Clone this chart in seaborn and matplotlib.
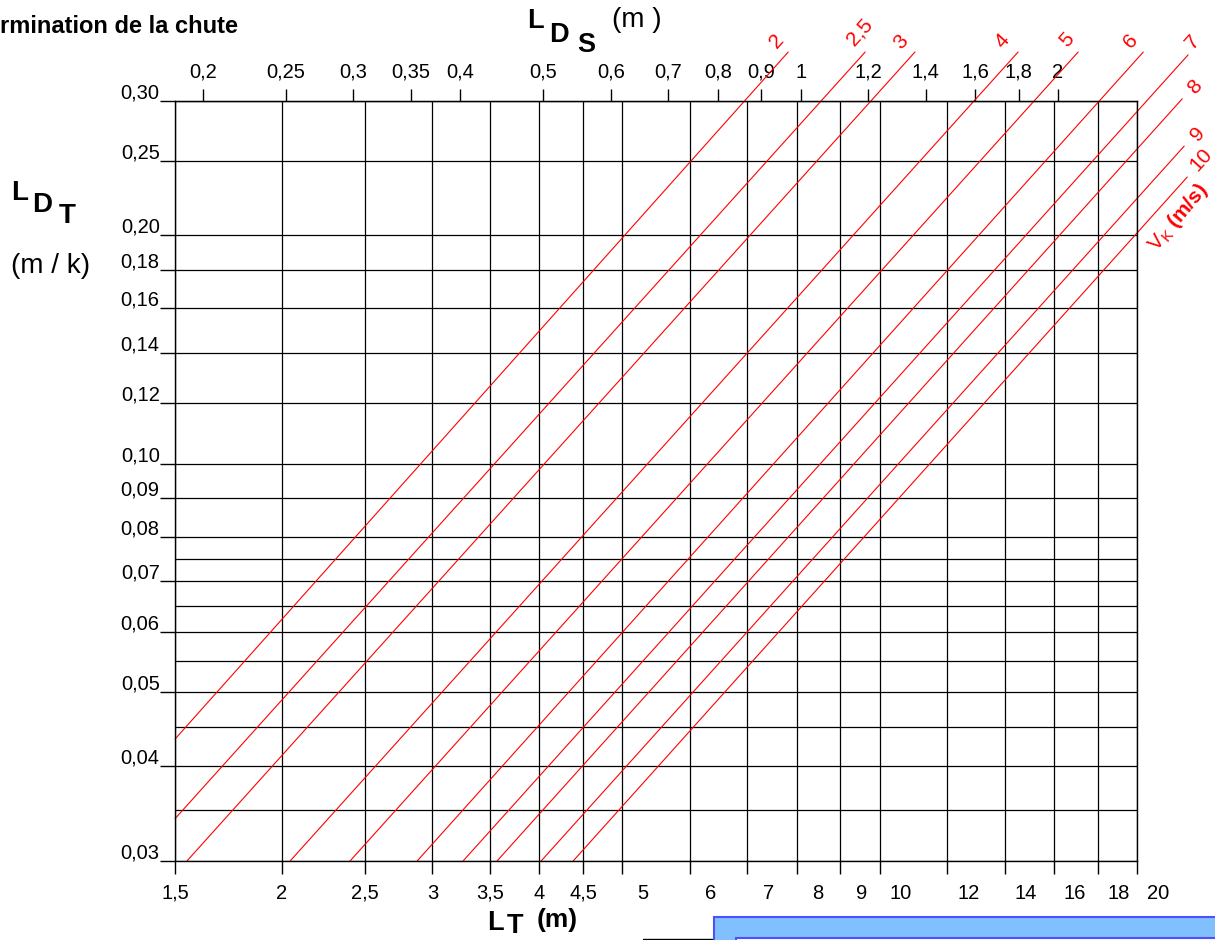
import pandas as pd
import seaborn as sns
import matplotlib.pyplot as plt
import matplotlib.transforms as mtransforms
from matplotlib.patches import Rectangle
from matplotlib.lines import Line2D
from matplotlib.ticker import NullLocator, NullFormatter

# bottom axis: L_T (m)
lt_ticks = [1.5, 2, 2.5, 3, 3.5, 4, 4.5, 5, 6, 7, 8, 9, 10, 12, 14, 16, 18, 20]
lt_labels = ["1,5", "2", "2,5", "3", "3,5", "4", "4,5", "5", "6", "7", "8", "9",
             "10", "12", "14", "16", "18", "20"]

# left axis: L_DT (m / k)
ldt_ticks = [0.03, 0.04, 0.05, 0.06, 0.07, 0.08, 0.09, 0.10, 0.12, 0.14, 0.16,
             0.18, 0.20, 0.25, 0.30]
ldt_labels = ["0,03", "0,04", "0,05", "0,06", "0,07", "0,08", "0,09", "0,10",
              "0,12", "0,14", "0,16", "0,18", "0,20", "0,25", "0,30"]
ldt_minor = [0.035, 0.045, 0.055, 0.065, 0.075]

# top axis: L_DS (m), proportional to L_T
lds_ticks = [0.2, 0.25, 0.3, 0.35, 0.4, 0.5, 0.6, 0.7, 0.8, 0.9, 1, 1.2, 1.4,
             1.6, 1.8, 2]
lds_labels = ["0,2", "0,25", "0,3", "0,35", "0,4", "0,5", "0,6", "0,7", "0,8",
              "0,9", "1", "1,2", "1,4", "1,6", "1,8", "2"]
lds_per_lt = 0.1237

# V_K (m/s) lines, read as start / end points
vk = ["2", "2,5", "3", "4", "5", "6", "7", "8", "9", "10"]
lt_start = [1.5, 1.5, 1.549, 2.045, 2.403, 2.879, 3.258, 3.570, 4.020, 4.382]
ldt_start = [0.0434, 0.0341, 0.03, 0.03, 0.03, 0.03, 0.03, 0.03, 0.03, 0.03]
lt_end = [7.82, 9.62, 11.00, 14.52, 17.07, 20.34, 22.95, 22.59, 22.71, 22.90]
ldt_end = [0.348, 0.348, 0.348, 0.348, 0.348, 0.348, 0.345, 0.302, 0.2617, 0.2383]

# where each red value sits relative to its line end (pixels)
label_offsets = [(-11, 11), (-6, 20), (-14, 10), (-16, 11), (-11, 12),
                 (-12, 11), (5, 13), (13, 12), (14, 12), (14, 17)]

W, H = 1215, 940


def fx(px):
    return px / W


def fy(py):
    return 1 - py / H


sns.set_style("ticks", {"axes.edgecolor": "black", "xtick.color": "black",
                        "ytick.color": "black", "text.color": "black"})
plt.rcParams["font.family"] = ["Liberation Sans", "DejaVu Sans"]
plt.rcParams["mathtext.fontset"] = "custom"
plt.rcParams["mathtext.rm"] = "Liberation Sans"
plt.rcParams["mathtext.bf"] = "Liberation Sans:bold"

fig = plt.figure(figsize=(W / 100, H / 100), dpi=100)
ax = fig.add_axes([fx(175), fy(861), (1137 - 175) / W, (861 - 101) / H])
ax.set_xscale("log")
ax.set_yscale("log")

rows = []
for i in range(len(vk)):
    rows.append({"L_T": lt_start[i], "L_DT": ldt_start[i], "V_K": vk[i]})
    rows.append({"L_T": lt_end[i], "L_DT": ldt_end[i], "V_K": vk[i]})
df = pd.DataFrame(rows)

sns.lineplot(data=df, x="L_T", y="L_DT", hue="V_K", palette=["red"] * len(vk),
             estimator=None, sort=False, legend=False, linewidth=0.8, ax=ax)
for line in ax.lines:
    line.set_clip_on(False)

ax.set_xlim(1.5, 20)
ax.set_ylim(0.03, 0.30)
ax.set_xlabel("")
ax.set_ylabel("")

ax.set_xticks(lt_ticks, labels=lt_labels)
ax.xaxis.set_minor_locator(NullLocator())
ax.set_yticks(ldt_ticks, labels=ldt_labels)
ax.set_yticks(ldt_minor, minor=True)
ax.yaxis.set_minor_formatter(NullFormatter())

ax.tick_params(axis="x", which="major", length=9.5, width=1, pad=7, labelsize=14.5)
ax.tick_params(axis="y", which="major", length=11, width=1, pad=0, labelsize=14.5)
ax.tick_params(axis="y", which="minor", length=0)
ax.grid(True, axis="x", which="major", color="black", linewidth=0.9)
ax.grid(True, axis="y", which="both", color="black", linewidth=0.9)
for s in ax.spines.values():
    s.set_linewidth(1)

# labels from 5 upward are printed a bit to the right of their lines
shift_r = mtransforms.ScaledTranslation(0.21, 0, fig.dpi_scale_trans)
for lab, v in zip(ax.get_xticklabels(), lt_ticks):
    if v >= 5:
        lab.set_transform(lab.get_transform() + shift_r)
shift_up = mtransforms.ScaledTranslation(0, 0.10, fig.dpi_scale_trans)
for lab in ax.get_yticklabels():
    lab.set_transform(lab.get_transform() + shift_up)

secax = ax.secondary_xaxis("top", functions=(lambda x: x * lds_per_lt,
                                             lambda x: x / lds_per_lt))
secax.set_xticks(lds_ticks, labels=lds_labels)
secax.xaxis.set_minor_locator(NullLocator())
secax.tick_params(axis="x", length=9, width=1, pad=5, labelsize=14.5)

for i, lab in enumerate(vk):
    ax.annotate(lab, xy=(lt_end[i], ldt_end[i]), xytext=label_offsets[i],
                textcoords="offset pixels", color="red", rotation=48,
                ha="center", va="center", fontsize=15, annotation_clip=False)

fig.text(fx(1178), fy(218), r"V$_\mathrm{K}$ $\mathbf{(m/s)}$", rotation=50,
         ha="center", va="center", color="red", fontsize=15)

# title fragment and axis names
fig.text(fx(0), fy(33), "rmination de la chute", fontsize=17,
         fontweight="bold", ha="left", va="baseline")

fig.text(fx(527), fy(28), "L", fontsize=19.5, fontweight="bold", va="baseline")
fig.text(fx(549), fy(42), "D", fontsize=19.5, fontweight="bold", va="baseline")
fig.text(fx(577), fy(52), "S", fontsize=19.5, fontweight="bold", va="baseline")
fig.text(fx(612), fy(27), "(m )", fontsize=20, va="baseline")

fig.text(fx(11), fy(200), "L", fontsize=20, fontweight="bold", va="baseline")
fig.text(fx(32), fy(212), "D", fontsize=20, fontweight="bold", va="baseline")
fig.text(fx(59), fy(223), "T", fontsize=20, fontweight="bold", va="baseline")
fig.text(fx(11), fy(273), "(m / k)", fontsize=20, va="baseline")

fig.text(fx(487), fy(930), "L", fontsize=19.5, fontweight="bold", va="baseline")
fig.text(fx(507), fy(933), "T", fontsize=19.5, fontweight="bold", va="baseline")
fig.text(fx(537), fy(927), "(m)", fontsize=19, fontweight="bold", va="baseline")

# blue box at the bottom right of the page
fig.add_artist(Rectangle((fx(714), fy(960)), fx(520), 43 / H,
                         transform=fig.transFigure, facecolor="#80c0ff",
                         edgecolor="#4f4fff", linewidth=1.5))
fig.add_artist(Rectangle((fx(736), fy(980)), fx(520), 42 / H,
                         transform=fig.transFigure, facecolor="white",
                         edgecolor="#4f4fff", linewidth=1.5))
fig.add_artist(Line2D([fx(643), fx(712)], [fy(939), fy(939)],
                      transform=fig.transFigure, color="black", linewidth=1))

fig.savefig("out.png", dpi=100)
